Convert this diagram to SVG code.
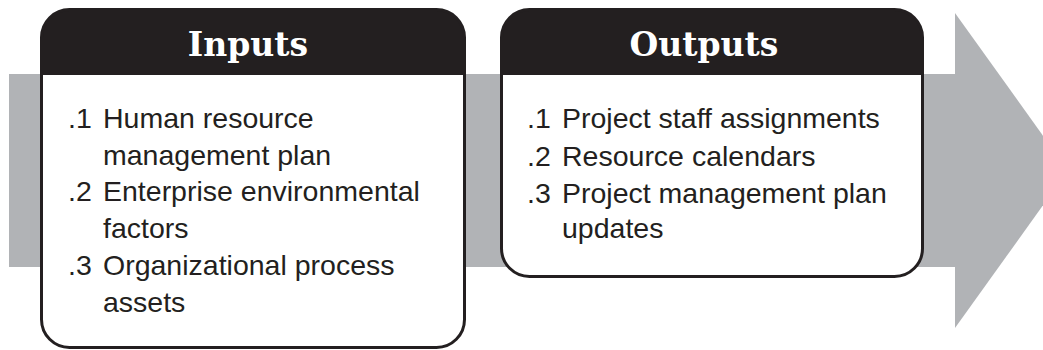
<svg xmlns="http://www.w3.org/2000/svg" width="1043" height="350" viewBox="0 0 1043 350">
  <style>
    .band { fill: #b1b3b6; }
    .body { fill: #ffffff; }
    .head { fill: #231f20; }
    .outline { fill: none; stroke: #231f20; stroke-width: 3; }
    .title { font-family: "DejaVu Serif", "Liberation Serif", serif; font-weight: bold; font-size: 33px; fill: #ffffff; text-anchor: middle; }
    .item { font-family: "Liberation Sans", Arial, sans-serif; font-size: 28.5px; fill: #231f20; }
  </style>
  <rect width="1043" height="350" fill="#ffffff"/>
  <g id="connectors">
    <g id="flow-arrow">
      <rect class="band" x="9" y="74" width="947" height="193"/>
      <polygon class="band" points="955,13 1068,170.5 955,328"/>
    </g>
  </g>
  <g id="inputs">
    <path class="body" d="M69.5,9.5 H436.5 A28,28 0 0 1 464.5,37.5 V319.5 A28,28 0 0 1 436.5,347.5 H69.5 A28,28 0 0 1 41.5,319.5 V37.5 A28,28 0 0 1 69.5,9.5 Z"/>
    <path class="head" d="M41.5,75 V37.5 A28,28 0 0 1 69.5,9.5 H436.5 A28,28 0 0 1 464.5,37.5 V75 Z"/>
    <path class="outline" d="M69.5,9.5 H436.5 A28,28 0 0 1 464.5,37.5 V319.5 A28,28 0 0 1 436.5,347.5 H69.5 A28,28 0 0 1 41.5,319.5 V37.5 A28,28 0 0 1 69.5,9.5 Z"/>
    <text class="title" x="248" y="56">Inputs</text>
    <text class="item" x="68" y="128">.1</text>
    <text class="item" x="103" y="128">Human resource</text>
    <text class="item" x="103" y="165">management plan</text>
    <text class="item" x="68" y="201">.2</text>
    <text class="item" x="103" y="201">Enterprise environmental</text>
    <text class="item" x="103" y="238">factors</text>
    <text class="item" x="68" y="275">.3</text>
    <text class="item" x="103" y="275">Organizational process</text>
    <text class="item" x="103" y="312">assets</text>
  </g>
  <g id="outputs">
    <path class="body" d="M529.5,9.5 H894.5 A28,28 0 0 1 922.5,37.5 V248.5 A28,28 0 0 1 894.5,276.5 H529.5 A28,28 0 0 1 501.5,248.5 V37.5 A28,28 0 0 1 529.5,9.5 Z"/>
    <path class="head" d="M501.5,75 V37.5 A28,28 0 0 1 529.5,9.5 H894.5 A28,28 0 0 1 922.5,37.5 V75 Z"/>
    <path class="outline" d="M529.5,9.5 H894.5 A28,28 0 0 1 922.5,37.5 V248.5 A28,28 0 0 1 894.5,276.5 H529.5 A28,28 0 0 1 501.5,248.5 V37.5 A28,28 0 0 1 529.5,9.5 Z"/>
    <text class="title" x="704" y="56">Outputs</text>
    <text class="item" x="527" y="128">.1</text>
    <text class="item" x="562" y="128">Project staff assignments</text>
    <text class="item" x="527" y="166">.2</text>
    <text class="item" x="562" y="166">Resource calendars</text>
    <text class="item" x="527" y="203">.3</text>
    <text class="item" x="562" y="203">Project management plan</text>
    <text class="item" x="562" y="238">updates</text>
  </g>
</svg>
